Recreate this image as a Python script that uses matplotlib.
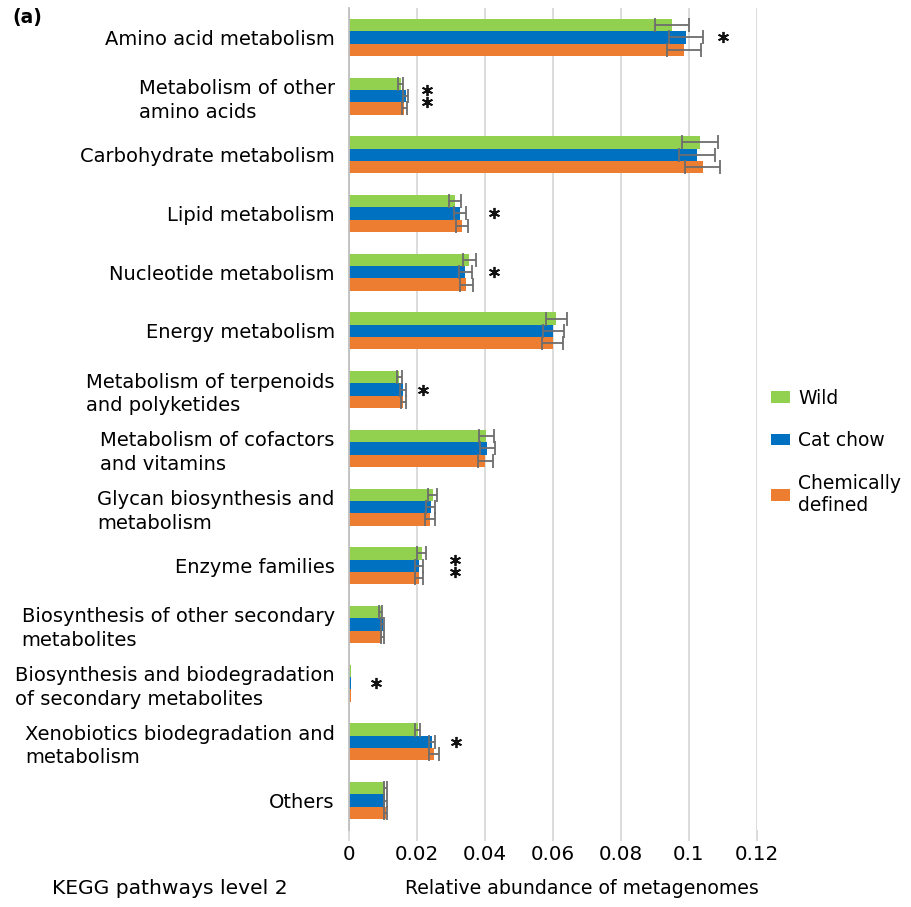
import numpy as np
import matplotlib
matplotlib.use("Agg")
import matplotlib.pyplot as plt

# KEGG level-2 pathways, top to bottom
pathways = [
    "Amino acid metabolism",
    "Metabolism of other\namino acids",
    "Carbohydrate metabolism",
    "Lipid metabolism",
    "Nucleotide metabolism",
    "Energy metabolism",
    "Metabolism of terpenoids\nand polyketides",
    "Metabolism of cofactors\nand vitamins",
    "Glycan biosynthesis and\nmetabolism",
    "Enzyme families",
    "Biosynthesis of other secondary\nmetabolites",
    "Biosynthesis and biodegradation\nof secondary metabolites",
    "Xenobiotics biodegradation and\nmetabolism",
    "Others",
]

nan = float("nan")  # no error bar drawn

wild = [0.0950, 0.0153, 0.1033, 0.0313, 0.0355, 0.0610, 0.0149, 0.0404, 0.0247, 0.0215, 0.0094, 0.0007, 0.0203, 0.0108]
wild_err = [0.0050, 0.0007, 0.0053, 0.0017, 0.0020, 0.0031, 0.0008, 0.0022, 0.0014, 0.0013, 0.0004, nan, 0.0008, 0.0005]

cat_chow = [0.0992, 0.0167, 0.1023, 0.0327, 0.0343, 0.0602, 0.0159, 0.0407, 0.0241, 0.0206, 0.0100, 0.0008, 0.0245, 0.0108]
cat_chow_err = [0.0050, 0.0007, 0.0053, 0.0018, 0.0020, 0.0031, 0.0008, 0.0022, 0.0014, 0.0012, 0.0004, nan, 0.0010, 0.0005]

chem_defined = [0.0987, 0.0164, 0.1041, 0.0333, 0.0345, 0.0600, 0.0161, 0.0402, 0.0239, 0.0206, 0.0099, 0.0008, 0.0251, 0.0109]
chem_defined_err = [0.0050, 0.0007, 0.0052, 0.0018, 0.0019, 0.0031, 0.0008, 0.0022, 0.0014, 0.0012, 0.0004, nan, 0.0014, 0.0005]

# significance marks: (category index, x position, number of stars)
sig_marks = [(0, 0.1100, 1), (1, 0.0230, 2), (3, 0.0427, 1), (4, 0.0426, 1),
             (6, 0.0217, 1), (9, 0.0313, 2), (11, 0.0079, 1), (12, 0.0316, 1)]

series = [("Wild", wild, wild_err, "#92d050"),
          ("Cat chow", cat_chow, cat_chow_err, "#0070c0"),
          ("Chemically\ndefined", chem_defined, chem_defined_err, "#ed7d31")]

plt.rcParams["font.family"] = ["DejaVu Sans"]

fig = plt.figure(figsize=(9.11, 9.07), dpi=100)
ax = fig.add_axes([0.3828, 0.0849, 0.4479, 0.9063])

y = np.arange(len(pathways))
h = 0.21
for i, (name, vals, errs, col) in enumerate(series):
    ax.barh(y + (i - 1) * h, vals, height=h, color=col, label=name, zorder=2,
            xerr=errs, error_kw=dict(ecolor="#6d6d6d", elinewidth=1.3, capsize=5, capthick=1.3, zorder=3))

for idx, xpos, n in sig_marks:
    ys = [idx] if n == 1 else [idx - 0.1, idx + 0.1]
    ax.plot([xpos] * len(ys), ys, linestyle="none", marker=(6, 2, 0),
            markersize=8, markeredgewidth=1.3, color="#111111", zorder=4)

ax.set_xlim(0, 0.12)
ax.set_ylim(len(pathways) - 0.5, -0.5)
ax.set_xticks([0, 0.02, 0.04, 0.06, 0.08, 0.1, 0.12])
ax.set_xticklabels(["0", "0.02", "0.04", "0.06", "0.08", "0.1", "0.12"], fontsize=14.3)
ax.set_yticks(y)
ax.set_yticklabels(pathways, fontsize=14)
for t in ax.get_yticklabels():
    t.set_multialignment("left")
    t.set_linespacing(1.3)
ax.tick_params(axis="y", length=0, pad=10)
ax.tick_params(axis="x", length=8, color="#d9d9d9", width=1.3, pad=3)
ax.grid(axis="x", color="#d9d9d9", linewidth=1.3, zorder=0)
for s in ["top", "right", "bottom"]:
    ax.spines[s].set_visible(False)
ax.spines["left"].set_color("#bfbfbf")
ax.spines["left"].set_linewidth(1.3)

fig.legend(loc="center left", bbox_to_anchor=(0.838, 0.502), frameon=False, fontsize=13.5,
           handlelength=1.0, handleheight=0.55, handletextpad=0.45, labelspacing=1.25,
           borderaxespad=0)

fig.text(12 / 911, 1 - 18 / 907, "(a)", fontsize=13.5, fontweight="bold", va="center", ha="left")
fig.text(52 / 911, 1 - 888 / 907, "KEGG pathways level 2", fontsize=14.6, va="center", ha="left")
fig.text(582 / 911, 1 - 888 / 907, "Relative abundance of metagenomes", fontsize=13.6, va="center", ha="center")

fig.savefig("out.png", dpi=100)
